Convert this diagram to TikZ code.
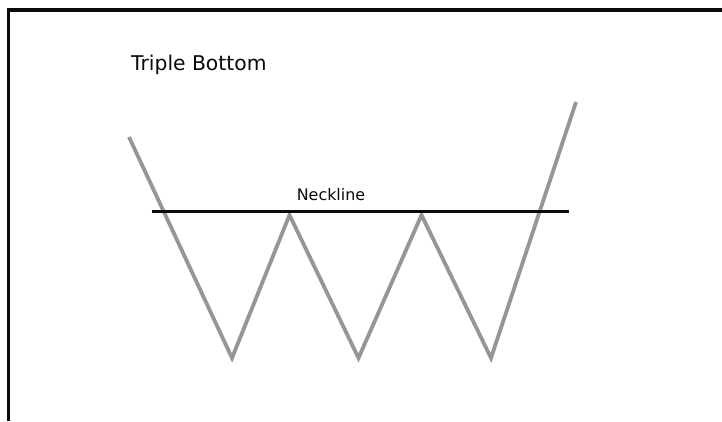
\documentclass[tikz,border=0pt]{standalone}
\usepackage{fontspec}
\setmainfont{DejaVu Sans}
\usepackage{xcolor}
\usepackage{tikz}
\usetikzlibrary{positioning, calc}
\definecolor{mygray}{RGB}{150,150,150}
\definecolor{mydark}{RGB}{10,10,10}
\tikzset{
  price/.style={line width=3.8pt, color=mygray, line join=miter},
  neck/.style={line width=3.4pt, color=mydark},
  frame/.style={line width=3.2pt, color=mydark},
  title/.style={inner sep=0pt, anchor=base west, font=\fontsize{20.3}{24}\selectfont, color=mydark},
  label/.style={inner sep=0pt, anchor=base, font=\fontsize{15.9}{19}\selectfont, color=mydark}
}
\begin{document}
\begin{tikzpicture}[x=1pt, y=-1pt]
  \useasboundingbox (0,0) rectangle (722,421);
  \fill[white] (0,0) rectangle (722,421);

  % Frame (top and left edges)
  \draw[frame] (8.7,421) -- (8.7,10) -- (722,10);

  % Title
  \node[title] (ttl) at (131,70) {Triple Bottom};

  % Price path points
  \coordinate (P0) at (129,137);
  \coordinate (B1) at (232,358);
  \coordinate (T1) at (289.5,215);
  \coordinate (B2) at (358.5,358);
  \coordinate (T2) at (421.5,215);
  \coordinate (B3) at (491,358);
  \coordinate (P1) at (576,102);

  % Draw price zigzag
  \draw[price] (P0) -- (B1) -- (T1) -- (B2) -- (T2) -- (B3) -- (P1);

  % Neckline
  \coordinate (NL) at (151.7,211.5);
  \coordinate (NR) at (569,211.5);
  \draw[neck] (NL) -- (NR);
  \node[label] (nk) at (331,200.7) {Neckline};
\end{tikzpicture}
\end{document}
